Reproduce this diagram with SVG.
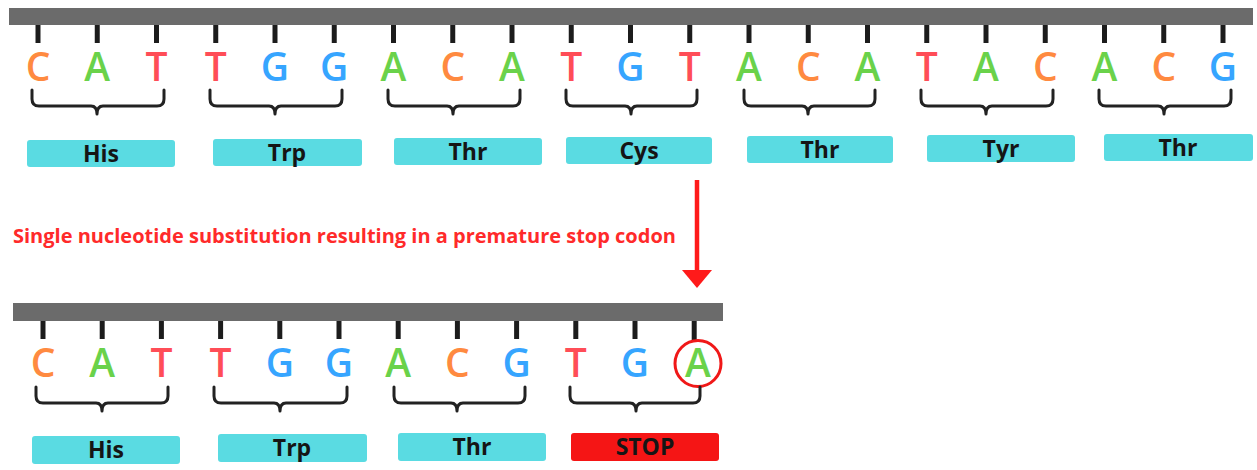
<svg xmlns="http://www.w3.org/2000/svg" width="1257" height="470" viewBox="0 0 1257 470">
<style>
.bar{fill:#6b6b6b}
.tick{stroke:#1c1c1c;stroke-width:5}
.nt{font-family:"Open Sans","Liberation Sans",sans-serif;font-weight:600;font-size:39px;text-anchor:middle}
.C{fill:#ff8a40}.A{fill:#6ad24a}.T{fill:#ff4d57}.G{fill:#36a5ff}
.brace{fill:none;stroke:#222;stroke-width:3;stroke-linejoin:round;stroke-linecap:round}
.box{fill:#5adbe2}
.stop{fill:#f51515}
.lbl{font-family:"Open Sans","Liberation Sans",sans-serif;font-weight:700;font-size:23px;fill:#151515;text-anchor:middle}
.note{font-family:"Open Sans","Liberation Sans",sans-serif;font-weight:700;font-size:20px;fill:#ff2a2a}
</style>
<rect width="1257" height="470" fill="#fff"/>
<g id="strand-original">
<rect class="bar" x="9" y="8" width="1244" height="17"/>
<g>
<line class="tick" x1="38" y1="25" x2="38" y2="43"/><line class="tick" x1="97.25" y1="25" x2="97.25" y2="43"/><line class="tick" x1="156.5" y1="25" x2="156.5" y2="43"/>
<line class="tick" x1="215.75" y1="25" x2="215.75" y2="43"/><line class="tick" x1="275" y1="25" x2="275" y2="43"/><line class="tick" x1="334.25" y1="25" x2="334.25" y2="43"/>
<line class="tick" x1="393.5" y1="25" x2="393.5" y2="43"/><line class="tick" x1="452.75" y1="25" x2="452.75" y2="43"/><line class="tick" x1="512" y1="25" x2="512" y2="43"/>
<line class="tick" x1="571.25" y1="25" x2="571.25" y2="43"/><line class="tick" x1="630.5" y1="25" x2="630.5" y2="43"/><line class="tick" x1="689.75" y1="25" x2="689.75" y2="43"/>
<line class="tick" x1="749" y1="25" x2="749" y2="43"/><line class="tick" x1="808.25" y1="25" x2="808.25" y2="43"/><line class="tick" x1="867.5" y1="25" x2="867.5" y2="43"/>
<line class="tick" x1="926.75" y1="25" x2="926.75" y2="43"/><line class="tick" x1="986" y1="25" x2="986" y2="43"/><line class="tick" x1="1045.25" y1="25" x2="1045.25" y2="43"/>
<line class="tick" x1="1104.5" y1="25" x2="1104.5" y2="43"/><line class="tick" x1="1163.75" y1="25" x2="1163.75" y2="43"/><line class="tick" x1="1223" y1="25" x2="1223" y2="43"/>
</g>
</g>
<g id="codon1"><text class="nt C" x="38" y="81">C</text><text class="nt A" x="97.25" y="81">A</text><text class="nt T" x="156.5" y="81">T</text>
<path class="brace" d="M32,90 L32,99 Q32,106 39,106 L91,106 Q97,106 97,114 Q97,106 103,106 L157,106 Q164,106 164,99 L164,90"/>
<rect class="box" x="27" y="140" width="148" height="27" rx="3"/><text class="lbl" x="101" y="162">His</text></g>
<g id="codon2"><text class="nt T" x="215.75" y="81">T</text><text class="nt G" x="275" y="81">G</text><text class="nt G" x="334.25" y="81">G</text>
<path class="brace" d="M210,90 L210,99 Q210,106 217,106 L269,106 Q275,106 275,114 Q275,106 281,106 L335,106 Q342,106 342,99 L342,90"/>
<rect class="box" x="213" y="139" width="149" height="27" rx="3"/><text class="lbl" x="287" y="161">Trp</text></g>
<g id="codon3"><text class="nt A" x="393.5" y="81">A</text><text class="nt C" x="452.75" y="81">C</text><text class="nt A" x="512" y="81">A</text>
<path class="brace" d="M388,90 L388,99 Q388,106 395,106 L447,106 Q453,106 453,114 Q453,106 459,106 L513,106 Q520,106 520,99 L520,90"/>
<rect class="box" x="394" y="138" width="148" height="27" rx="3"/><text class="lbl" x="468" y="160">Thr</text></g>
<g id="codon4"><text class="nt T" x="571.25" y="81">T</text><text class="nt G" x="630.5" y="81">G</text><text class="nt T" x="689.75" y="81">T</text>
<path class="brace" d="M566,90 L566,99 Q566,106 573,106 L625,106 Q631,106 631,114 Q631,106 637,106 L690,106 Q697,106 697,99 L697,90"/>
<rect class="box" x="566" y="137" width="146" height="27" rx="3"/><text class="lbl" x="639" y="159">Cys</text></g>
<g id="codon5"><text class="nt A" x="749" y="81">A</text><text class="nt C" x="808.25" y="81">C</text><text class="nt A" x="867.5" y="81">A</text>
<path class="brace" d="M744,90 L744,99 Q744,106 751,106 L802,106 Q808,106 808,114 Q808,106 814,106 L868,106 Q875,106 875,99 L875,90"/>
<rect class="box" x="747" y="136" width="146" height="27" rx="3"/><text class="lbl" x="820" y="158">Thr</text></g>
<g id="codon6"><text class="nt T" x="926.75" y="81">T</text><text class="nt A" x="986" y="81">A</text><text class="nt C" x="1045.25" y="81">C</text>
<path class="brace" d="M921,90 L921,99 Q921,106 928,106 L980,106 Q986,106 986,114 Q986,106 992,106 L1046,106 Q1053,106 1053,99 L1053,90"/>
<rect class="box" x="927" y="135" width="148" height="27" rx="3"/><text class="lbl" x="1001" y="157">Tyr</text></g>
<g id="codon7"><text class="nt A" x="1104.5" y="81">A</text><text class="nt C" x="1163.75" y="81">C</text><text class="nt G" x="1223" y="81">G</text>
<path class="brace" d="M1099,90 L1099,99 Q1099,106 1106,106 L1158,106 Q1164,106 1164,114 Q1164,106 1170,106 L1224,106 Q1231,106 1231,99 L1231,90"/>
<rect class="box" x="1104" y="134" width="149" height="27" rx="3"/><text class="lbl" x="1178" y="156">Thr</text></g>

<g id="mutation-note"><text class="note" x="13" y="243">Single nucleotide substitution resulting in a premature stop codon</text></g>
<g id="connectors">
<line x1="697" y1="180" x2="697" y2="272" stroke="#ff1a1a" stroke-width="4.5"/>
<polygon points="682,270 712,270 697,288" fill="#ff1a1a"/>
</g>

<g id="strand-mutant">
<rect class="bar" x="13" y="303" width="710" height="18"/>
<g>
<line class="tick" x1="43" y1="321" x2="43" y2="339"/><line class="tick" x1="102.2" y1="321" x2="102.2" y2="339"/><line class="tick" x1="161.4" y1="321" x2="161.4" y2="339"/>
<line class="tick" x1="220.6" y1="321" x2="220.6" y2="339"/><line class="tick" x1="279.8" y1="321" x2="279.8" y2="339"/><line class="tick" x1="339" y1="321" x2="339" y2="339"/>
<line class="tick" x1="398.2" y1="321" x2="398.2" y2="339"/><line class="tick" x1="457.4" y1="321" x2="457.4" y2="339"/><line class="tick" x1="516.6" y1="321" x2="516.6" y2="339"/>
<line class="tick" x1="575.8" y1="321" x2="575.8" y2="339"/><line class="tick" x1="635" y1="321" x2="635" y2="339"/><line class="tick" x1="694.2" y1="321" x2="694.2" y2="344"/>
</g>
</g>
<g id="mcodon1"><text class="nt C" x="43" y="377">C</text><text class="nt A" x="102.2" y="377">A</text><text class="nt T" x="161.4" y="377">T</text>
<path class="brace" d="M36,387 L36,396 Q36,403 43,403 L96,403 Q102,403 102,411 Q102,403 108,403 L161,403 Q168,403 168,396 L168,387"/>
<rect class="box" x="32" y="436" width="148" height="28" rx="3"/><text class="lbl" x="106" y="458">His</text></g>
<g id="mcodon2"><text class="nt T" x="220.6" y="377">T</text><text class="nt G" x="279.8" y="377">G</text><text class="nt G" x="339" y="377">G</text>
<path class="brace" d="M214,387 L214,396 Q214,403 221,403 L274,403 Q280,403 280,411 Q280,403 286,403 L340,403 Q347,403 347,396 L347,387"/>
<rect class="box" x="218" y="434" width="149" height="28" rx="3"/><text class="lbl" x="292" y="456">Trp</text></g>
<g id="mcodon3"><text class="nt A" x="398.2" y="377">A</text><text class="nt C" x="457.4" y="377">C</text><text class="nt G" x="516.6" y="377">G</text>
<path class="brace" d="M394,387 L394,396 Q394,403 401,403 L451,403 Q457,403 457,411 Q457,403 463,403 L518,403 Q525,403 525,396 L525,387"/>
<rect class="box" x="398" y="433" width="148" height="28" rx="3"/><text class="lbl" x="472" y="455">Thr</text></g>
<g id="mcodon4"><text class="nt T" x="575.8" y="377">T</text><text class="nt G" x="635" y="377">G</text>
<circle cx="698" cy="363.5" r="23" fill="#fff" stroke="#f01818" stroke-width="3"/>
<text class="nt A" x="698" y="377">A</text>
<path class="brace" d="M570,387 L570,396 Q570,403 577,403 L630,403 Q636,403 636,411 Q636,403 642,403 L693,403 Q700,403 700,396 L700,387"/>
<rect class="stop" x="571" y="433" width="148" height="28" rx="3"/><text class="lbl" x="645" y="455">STOP</text></g>
</svg>
